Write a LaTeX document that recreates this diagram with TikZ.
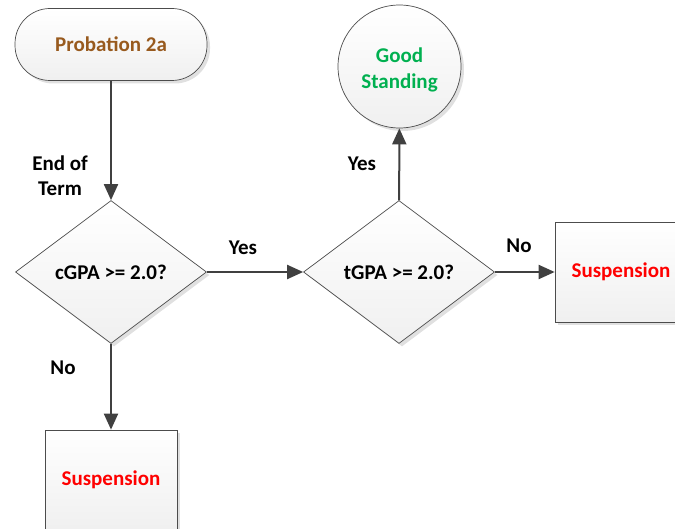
\documentclass[tikz,border=0pt]{standalone}
\usepackage{fontspec}
\setmainfont{Carlito}
\usetikzlibrary{shapes.geometric,arrows.meta,shadows}
\definecolor{probbrown}{HTML}{985A1E}
\definecolor{goodgreen}{HTML}{00B050}
\definecolor{susred}{HTML}{FF0000}
\definecolor{linegray}{HTML}{404040}
\begin{document}
\begin{tikzpicture}[x=1pt,y=-1pt,
  font=\fontsize{21}{24}\selectfont\bfseries,
  shapebase/.style={draw=black!70, line width=0.7pt, top color=white, bottom color=black!6,
    drop shadow={fill=black!20, shadow xshift=3pt, shadow yshift=-3pt, opacity=0.6},
    inner sep=0pt, align=center},
  terminal/.style={shapebase, rectangle, rounded corners=35pt, minimum width=192pt, minimum height=72pt},
  decision/.style={shapebase, diamond, aspect=1.35, minimum width=191pt, minimum height=143pt},
  endcircle/.style={shapebase, circle, minimum size=123pt},
  outbox/.style={shapebase, rectangle, minimum width=132pt, minimum height=100pt},
  flow/.style={draw=linegray, line width=2pt, -{Triangle[length=16pt,width=14pt]}},
  lbl/.style={align=center, text=black, inner sep=0pt}]
\useasboundingbox (0,0) rectangle (675,529);
\node[terminal, text=probbrown] (prob) at (111,44.5) {Probation 2a};
\node[decision] (d1) at (111,272) {cGPA >= 2.0?};
\node[decision] (d2) at (399,272) {tGPA >= 2.0?};
\node[endcircle] (good) at (399.5,66.5) {};
\node[lbl, text=goodgreen] (goodtxt) at ([yshift=-3pt]good.center) {Good\\[2pt]Standing};
\node[outbox, text=susred] (s1) at (621,272) {Suspension};
\node[outbox, text=susred] (s2) at (111,480) {Suspension};
\draw[flow] (prob) -- (d1);
\draw[flow] (d1) -- (d2);
\draw[flow] (d2) -- (good);
\draw[flow] (d2) -- (s1);
\draw[flow] (d1) -- (s2);
\node[lbl] (l1) at (60,176) {End of\\[1pt]Term};
\node[lbl] (l2) at (243,248) {Yes};
\node[lbl] (l3) at (362,164) {Yes};
\node[lbl] (l4) at (519,246) {No};
\node[lbl] (l5) at (63,368) {No};
\end{tikzpicture}
\end{document}
